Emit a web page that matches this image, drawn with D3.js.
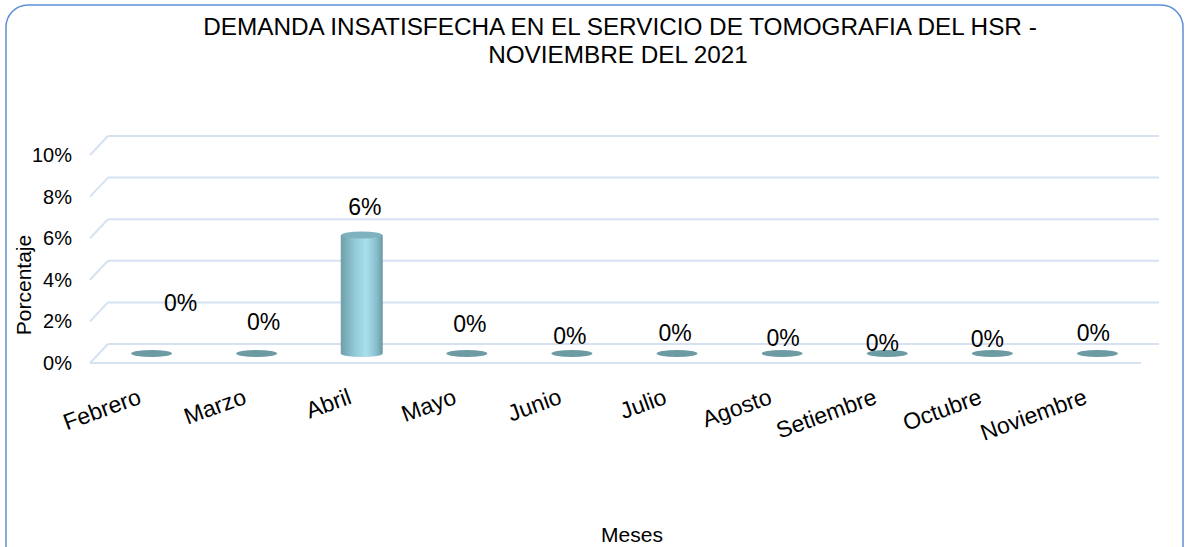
<!DOCTYPE html>
<html>
<head>
<meta charset="utf-8">
<script src="https://cdn.jsdelivr.net/npm/d3@7/dist/d3.min.js"></script>
<style>
  body { margin: 0; background: #fff; }
  text { font-family: "Liberation Sans", Arial, sans-serif; fill: #000; }
</style>
</head>
<body>
<div id="chart-area"></div>
<script>
// data
var months = ["Febrero", "Marzo", "Abril", "Mayo", "Junio", "Julio", "Agosto", "Setiembre", "Octubre", "Noviembre"];
var values = [0, 0, 0.057, 0, 0, 0, 0, 0, 0, 0];
var valueLabels = ["0%", "0%", "6%", "0%", "0%", "0%", "0%", "0%", "0%", "0%"];
var ticks = [0, 0.02, 0.04, 0.06, 0.08, 0.10];

// hand-placed data label nudges (px), as in the original sheet
var labelRise = [51, 32, 28, 30, 18, 21, 16, 11, 15, 21];
var labelShift = [29, 7, 3, 3, -2, -2, 1, -5, -5, -4];

var W = 1189, H = 547;
var depthX = 18, depthY = -19;   // 3D wall offset

var svg = d3.select("#chart-area")
    .append("svg")
        .attr("width", W)
        .attr("height", H);

var defs = svg.append("defs");
var grad = defs.append("linearGradient")
    .attr("id", "cyl")
    .attr("x1", "0%").attr("x2", "100%")
    .attr("y1", "0%").attr("y2", "0%");
grad.append("stop").attr("offset", "0%").attr("stop-color", "#6f9faa");
grad.append("stop").attr("offset", "35%").attr("stop-color", "#93cbd9");
grad.append("stop").attr("offset", "60%").attr("stop-color", "#a9e0ee");
grad.append("stop").attr("offset", "85%").attr("stop-color", "#89bfcd");
grad.append("stop").attr("offset", "100%").attr("stop-color", "#6a98a3");

// chart border
svg.append("rect")
    .attr("x", 6).attr("y", 5)
    .attr("width", 1177).attr("height", 570)
    .attr("rx", 22).attr("ry", 22)
    .attr("fill", "none")
    .attr("stroke", "#5b8ed8")
    .attr("stroke-width", 1.5);

// title
svg.append("text")
    .attr("x", 620).attr("y", 35)
    .attr("font-size", "24.3px")
    .attr("text-anchor", "middle")
    .text("DEMANDA INSATISFECHA EN EL SERVICIO DE TOMOGRAFIA DEL HSR -");
svg.append("text")
    .attr("x", 618).attr("y", 63)
    .attr("font-size", "24.3px")
    .attr("text-anchor", "middle")
    .text("NOVIEMBRE DEL 2021");

var x = d3.scaleBand()
    .domain(months)
    .range([90, 1141]);

var y = d3.scaleLinear()
    .domain([0, 0.10])
    .range([363, 155]);

var grid = svg.append("g")
    .attr("stroke", "#d6e2f2")
    .attr("stroke-width", 2)
    .attr("fill", "none");

// back wall gridlines + left side diagonals
grid.selectAll(".back")
    .data(ticks)
    .enter()
    .append("line")
        .attr("x1", 90 + depthX)
        .attr("x2", 1141 + depthX)
        .attr("y1", function(d){ return y(d) + depthY; })
        .attr("y2", function(d){ return y(d) + depthY; });

grid.selectAll(".side")
    .data(ticks)
    .enter()
    .append("line")
        .attr("x1", 90)
        .attr("x2", 90 + depthX)
        .attr("y1", function(d){ return y(d); })
        .attr("y2", function(d){ return y(d) + depthY; });

// floor front edge
grid.append("line")
    .attr("x1", 90).attr("x2", 1141)
    .attr("y1", y(0)).attr("y2", y(0));

// y tick labels
svg.selectAll(".ytick")
    .data(ticks)
    .enter()
    .append("text")
        .attr("x", 72)
        .attr("y", function(d){ return y(d) + 7; })
        .attr("text-anchor", "end")
        .attr("font-size", "20px")
        .text(function(d){ return Math.round(d * 100) + "%"; });

// axis titles
svg.append("text")
    .attr("transform", "translate(31,285) rotate(-90)")
    .attr("text-anchor", "middle")
    .attr("font-size", "21px")
    .text("Porcentaje");

svg.append("text")
    .attr("x", 632).attr("y", 542)
    .attr("text-anchor", "middle")
    .attr("font-size", "21px")
    .text("Meses");

// x labels
svg.selectAll(".xlab")
    .data(months)
    .enter()
    .append("text")
        .attr("text-anchor", "end")
        .attr("font-size", "23px")
        .attr("transform", function(d){
            return "translate(" + (x(d) + x.bandwidth() / 2) + ",403) rotate(-20)";
        })
        .text(function(d){ return d; });

// cylinders
var cw = 42, ry = 3.5;
function cx(i){ return x(months[i]) + x.bandwidth() / 2 + depthX / 2; }
function cy(v){ return y(v) + depthY / 2; }

var bars = svg.selectAll(".bar")
    .data(values)
    .enter()
    .append("g");

bars.filter(function(d){ return d > 0; })
    .append("path")
        .attr("fill", "url(#cyl)")
        .attr("d", function(d){
            var i2 = values.indexOf(d);
            var l = cx(i2) - cw / 2, r = cx(i2) + cw / 2;
            var t = cy(d), b = cy(0);
            return "M" + l + "," + t + " L" + l + "," + b +
                " A" + (cw / 2) + "," + ry + " 0 0 0 " + r + "," + b +
                " L" + r + "," + t + " Z";
        });

bars.append("ellipse")
    .attr("cx", function(d, i){ return cx(i); })
    .attr("cy", function(d){ return cy(d); })
    .attr("rx", cw / 2 - 0.5)
    .attr("ry", ry)
    .attr("fill", function(d){ return d > 0 ? "#7fb2bf" : "#6d9ba4"; });

// value labels
svg.selectAll(".vlab")
    .data(values)
    .enter()
    .append("text")
        .attr("text-anchor", "middle")
        .attr("font-size", "23px")
        .attr("x", function(d, i){ return cx(i) + labelShift[i]; })
        .attr("y", function(d, i){ return cy(d) - labelRise[i] + 8; })
        .text(function(d, i){ return valueLabels[i]; });
</script>
</body>
</html>
